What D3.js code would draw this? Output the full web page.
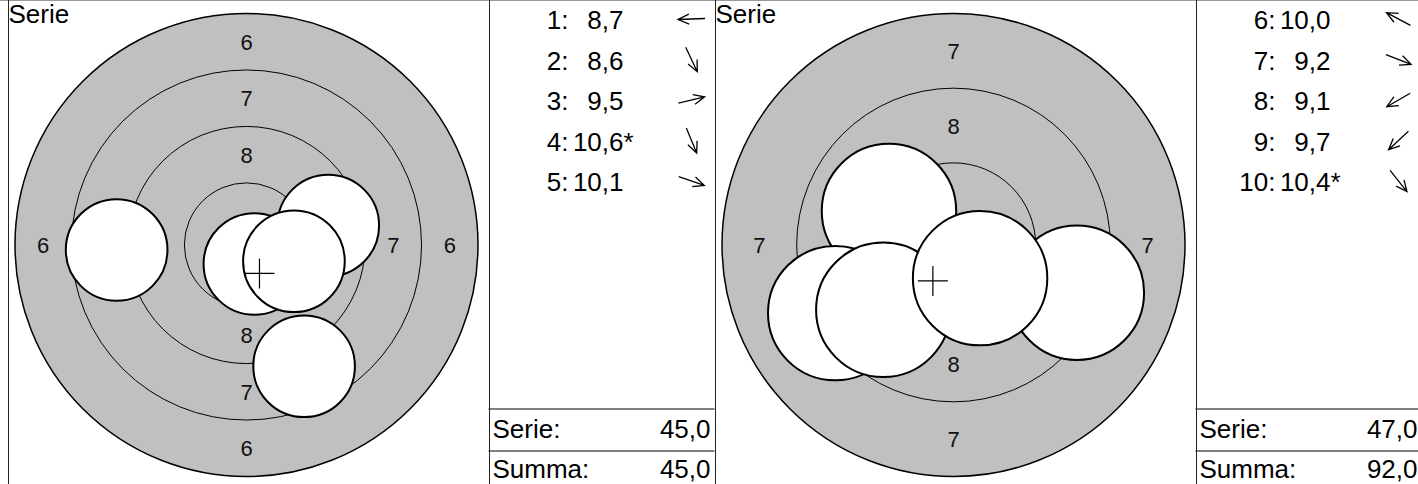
<!DOCTYPE html>
<html lang="sv">
<head>
<meta charset="UTF-8">
<title>Serie</title>
<script src="https://d3js.org/d3.v7.min.js"></script>
<style>
    body { margin: 0; background: #fff; }
    svg { display: block; font-family: "Liberation Sans", Arial, Helvetica, sans-serif; }
</style>
</head>
<body>
<div id="chart"></div>
<script>
// shots, one entry per shot (positions in mm from target centre, y up)
const shotNo    = [1, 2, 3, 4, 5, 6, 7, 8, 9, 10];
const seriesOf  = [1, 1, 1, 1, 1, 2, 2, 2, 2, 2];
const shotScore = [8.7, 8.6, 9.5, 10.6, 10.1, 10.0, 9.2, 9.1, 9.7, 10.4];
const innerTen  = [false, false, false, true, false, false, false, false, false, true];
const shotX     = [-5.75, 2.55, 3.62, 0.35, 2.10, -2.16, 4.13, -3.96, -2.35, 0.89];
const shotY     = [-0.22, -5.37, 0.86, -0.84, -0.72, 1.14, -1.60, -2.28, -2.17, -1.11];

// air rifle target rings (mm)
const ringValue    = [10, 9, 8, 7, 6, 5, 4, 3, 2, 1];
const ringDiameter = [0.5, 5.5, 10.5, 15.5, 20.5, 25.5, 30.5, 35.5, 40.5, 45.5];
const pelletDiameter = 4.5;

const width = 1418, height = 484;
const targetW = 481, listW = 226, x0 = 7.5;
const R = 231.5, cy = 245;
const fs = 26;

const fmt = d3.formatLocale({decimal: ",", thousands: " ", grouping: [3], currency: ["", ""]}).format(".1f");

const svg = d3.select("#chart").append("svg")
    .attr("width", width)
    .attr("height", height);

svg.append("line")
    .attr("x1", 0).attr("x2", width)
    .attr("y1", 0.5).attr("y2", 0.5)
    .attr("stroke", "#999");

const series = d3.groups(shotNo.map((n, i) => ({
    no: n, series: seriesOf[i], score: shotScore[i], inner: innerTen[i], x: shotX[i], y: shotY[i]
})), d => d.series);

let total = 0;

series.forEach(([s, shots], i) => {
    const left = x0 + i * (targetW + listW);
    const listLeft = left + targetW;
    const cx = left + 239;
    const ringR = ringDiameter.map(d => d / 2);
    const pelletR = pelletDiameter / 2;

    // pick smallest ring that holds every shot
    const reach = d3.max(shots, d => Math.hypot(d.x, d.y)) + pelletR;
    const outerIdx = ringR.findIndex(r => r >= reach);
    const rOuter = ringR[outerIdx];

    const rs = d3.scaleLinear().domain([0, rOuter]).range([0, R]);
    const xs = d3.scaleLinear().domain([-rOuter, rOuter]).range([cx - R, cx + R]);
    const ys = d3.scaleLinear().domain([-rOuter, rOuter]).range([cy + R, cy - R]);

    const g = svg.append("g");

    g.append("circle")
        .attr("cx", cx).attr("cy", cy).attr("r", R)
        .attr("fill", "#c0c0c0")
        .attr("stroke", "#000")
        .attr("stroke-width", 1.5);

    g.selectAll("circle.ring")
        .data(ringR.slice(0, outerIdx))
        .join("circle")
        .attr("class", "ring")
        .attr("cx", cx).attr("cy", cy)
        .attr("r", d => rs(d))
        .attr("fill", "none")
        .attr("stroke", "#000")
        .attr("stroke-width", 1);

    // ring numbers, 4 sides
    const labels = [];
    for (let j = outerIdx; j > 0; j--) {
        if (ringValue[j] > 8) continue;
        const mid = rs((ringR[j] + ringR[j - 1]) / 2);
        [[0, -1], [0, 1], [-1, 0], [1, 0]].forEach(([ux, uy]) => {
            labels.push({t: ringValue[j], x: cx + ux * mid, y: cy + uy * mid});
        });
    }
    g.selectAll("text.ringlabel")
        .data(labels)
        .join("text")
        .attr("class", "ringlabel")
        .attr("x", d => d.x)
        .attr("y", d => d.y + 8)
        .attr("text-anchor", "middle")
        .attr("font-size", 22)
        .attr("fill", "#111")
        .text(d => d.t);

    g.selectAll("circle.shot")
        .data(shots)
        .join("circle")
        .attr("class", "shot")
        .attr("cx", d => xs(d.x))
        .attr("cy", d => ys(d.y))
        .attr("r", rs(pelletR))
        .attr("fill", "#fff")
        .attr("stroke", "#000")
        .attr("stroke-width", 2);

    // group centre
    const mx = xs(d3.mean(shots, d => d.x)), my = ys(d3.mean(shots, d => d.y));
    g.append("path")
        .attr("d", `M${mx - 15},${my}H${mx + 15}M${mx},${my - 15}V${my + 15}`)
        .attr("stroke", "#000")
        .attr("stroke-width", 1.2)
        .attr("fill", "none");

    g.append("text")
        .attr("x", left + 1)
        .attr("y", 23)
        .attr("font-size", fs)
        .text("Serie");

    // list panel
    const lg = svg.append("g");
    const rows = lg.selectAll("g.row")
        .data(shots)
        .join("g")
        .attr("class", "row")
        .attr("transform", (d, k) => `translate(${listLeft},${29 + k * 40.5})`);

    rows.append("text")
        .attr("x", 80).attr("text-anchor", "end")
        .attr("font-size", fs)
        .text(d => d.no + ":");
    rows.append("text")
        .attr("x", 135).attr("text-anchor", "end")
        .attr("font-size", fs)
        .text(d => fmt(d.score));
    rows.filter(d => d.inner).append("text")
        .attr("x", 135)
        .attr("font-size", fs)
        .text("*");

    rows.append("path")
        .attr("transform", d => `translate(203,-10) rotate(${Math.atan2(-d.y, d.x) * 180 / Math.PI})`)
        .attr("d", "M-13.5,0H13.5M2.5,-5L13.5,0L2.5,5")
        .attr("fill", "none")
        .attr("stroke", "#000")
        .attr("stroke-width", 1.3);

    const seriesSum = d3.sum(shots, d => Math.floor(d.score));
    total += seriesSum;

    [409, 451].forEach(yy => {
        lg.append("line")
            .attr("x1", listLeft).attr("x2", listLeft + listW)
            .attr("y1", yy).attr("y2", yy)
            .attr("stroke", "#000");
    });
    [["Serie:", seriesSum, 438], ["Summa:", total, 478]].forEach(([lab, v, yy]) => {
        lg.append("text").attr("x", listLeft + 4).attr("y", yy)
            .attr("font-size", fs).text(lab);
        lg.append("text").attr("x", listLeft + 222).attr("y", yy)
            .attr("text-anchor", "end")
            .attr("font-size", fs).text(fmt(v));
    });

    // panel borders
    [left, listLeft].forEach(xx => {
        svg.append("line")
            .attr("x1", Math.round(xx) + 0.5).attr("x2", Math.round(xx) + 0.5)
            .attr("y1", 0).attr("y2", height)
            .attr("stroke", "#222");
    });
});
</script>
</body>
</html>
